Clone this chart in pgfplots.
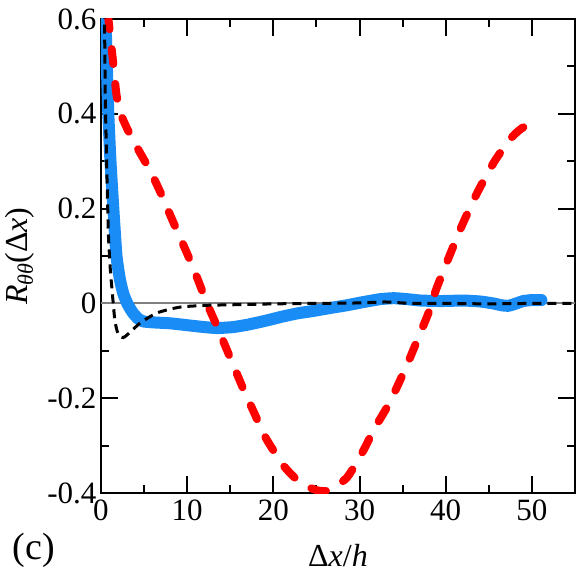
\documentclass[border=0pt]{standalone}
\usepackage{fontspec}
\setmainfont{Liberation Serif}
\usepackage{pgfplots}
\pgfplotsset{compat=1.18}
\definecolor{myblue}{RGB}{25,140,245}
\definecolor{myred}{RGB}{255,0,0}
\begin{document}
\begin{tikzpicture}
\begin{axis}[
  name=ax,
  scale only axis,
  width=474pt, height=474pt,
  xmin=0, xmax=55, ymin=-0.4, ymax=0.6,
  xtick={0,10,20,30,40,50},
  ytick={-0.4,-0.2,0,0.2,0.4,0.6},
  minor x tick num=1, minor y tick num=1,
  tick align=inside,
  major tick length=17pt, minor tick length=8pt,
  every tick/.style={black, line width=2pt},
  axis line style={line width=2.5pt},
  /pgf/number format/assume math mode=true,
  tick label style={font=\fontsize{31}{36}\selectfont},
  xticklabel style={yshift=-3pt},
  yticklabel style={xshift=-1pt},
  xlabel={Δ{\itshape x}/{\itshape h}},
  xlabel style={font=\fontsize{32}{38}\selectfont, at={(axis description cs:0.5,-0.133)}, anchor=center},
  ylabel={{\itshape R}\raisebox{-0.35ex}{\fontsize{22}{22}\selectfont\itshape θθ}(Δ{\itshape x})},
  ylabel style={font=\fontsize{32}{38}\selectfont, at={(axis description cs:-0.171,0.5)}, anchor=center},
  clip=true,
]
\addplot[gray, line width=2pt] coordinates {(0,0) (55,0)};
\addplot[myblue, line width=12pt, line join=round, line cap=round, smooth, tension=0.3] coordinates {
(0.5,0.62)(0.6,0.55)(0.85,0.4)(1.1,0.3)(1.43,0.2)(1.8,0.1)(2.2,0.05)(2.6,0.02)(3.1,-0.002)(3.7,-0.02)(4.3,-0.032)(4.9,-0.038)(6,-0.04)(8,-0.042)(10,-0.046)(12,-0.05)(13.5,-0.052)(15.3,-0.05)(17,-0.045)(19,-0.037)(21,-0.028)(22.8,-0.021)(24.6,-0.016)(26.5,-0.01)(28.5,-0.004)(30.5,0.003)(32.4,0.009)(34,0.011)(35.5,0.009)(37.1,0.006)(39.5,0.005)(42.1,0.006)(44,0.004)(45.5,0.0)(46.5,-0.004)(47.3,-0.005)(48.2,0.0)(49,0.005)(50,0.007)(51.1,0.007)
};
\addplot[myred, line width=8pt, line cap=round, dash pattern=on 15pt off 20pt, smooth, tension=0.4] coordinates {
(0.8,0.61)(1.1,0.56)(1.4,0.51)(1.8,0.44)(2.3,0.40)(3,0.37)(4,0.335)(5.7,0.28)(7,0.23)(8.3,0.175)(10,0.105)(11.2,0.052)(12.3,0.0)(13.5,-0.05)(15,-0.115)(16.5,-0.18)(18,-0.24)(19,-0.28)(20,-0.31)(21.3,-0.345)(22.5,-0.368)(23.8,-0.385)(25,-0.394)(26,-0.396)(27,-0.39)(28.6,-0.366)(30,-0.325)(30.8,-0.298)(31.6,-0.268)(33,-0.225)(34,-0.19)(35.5,-0.13)(37.1,-0.06)(38,-0.02)(38.9,0.03)(40.2,0.09)(41.9,0.165)(43.7,0.235)(45.6,0.298)(47.4,0.345)(48.5,0.365)(49.4,0.376)
};
\addplot[black, line width=3pt, dash pattern=on 9pt off 6pt, smooth, tension=0.3] coordinates {
(0.4,0.62)(0.46,0.5)(0.5,0.43)(0.65,0.3)(0.85,0.15)(1.05,0.08)(1.25,0.035)(1.6,-0.035)(1.9,-0.06)(2.2,-0.07)(2.6,-0.072)(3,-0.067)(3.7,-0.055)(4.5,-0.042)(5.5,-0.03)(6.5,-0.02)(8,-0.012)(9.5,-0.007)(12.3,-0.004)(15,-0.003)(20,-0.001)(25,0.0)(30,0.001)(33,0.003)(36,0.0)(40,0.0)(45,-0.001)(50,0.0)(55,0.0)
};
\end{axis}
\node[font=\fontsize{38}{42}\selectfont, anchor=center] at ([xshift=-67pt, yshift=-57pt]ax.south west) {(c)};
\pgfresetboundingbox
\path ([xshift=-101pt,yshift=-87pt]ax.south west) rectangle ([xshift=3pt,yshift=19pt]ax.north east);
\end{tikzpicture}
\end{document}
